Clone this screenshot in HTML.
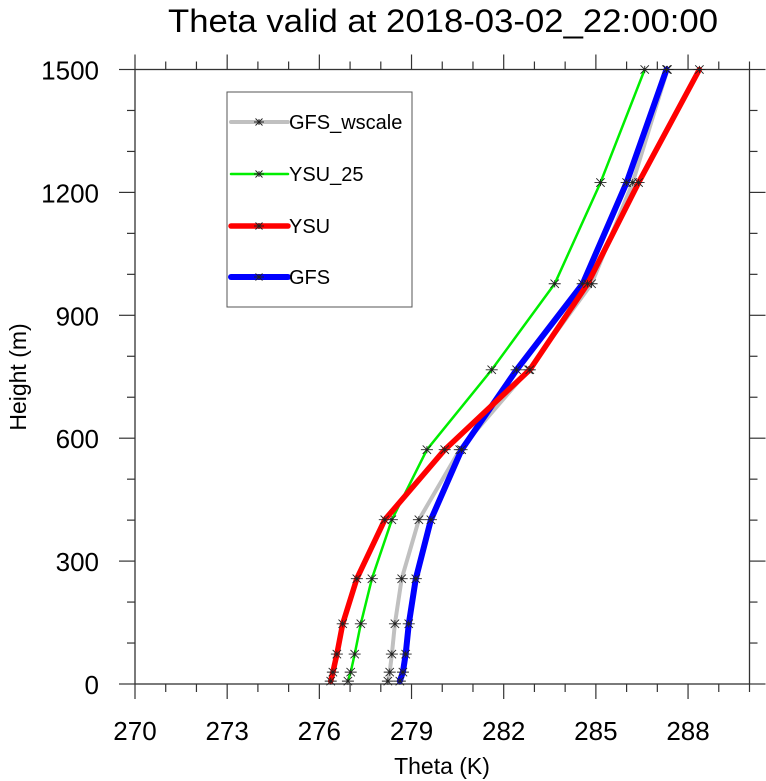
<!DOCTYPE html>
<html><head><meta charset="utf-8"><style>
html,body{margin:0;padding:0;background:#fff}
svg{display:block;font-family:"Liberation Sans",sans-serif}
</style></head><body>
<svg id="chart" width="766" height="781" viewBox="0 0 766 781" xmlns="http://www.w3.org/2000/svg">
<text x="443" y="32" font-size="32" text-anchor="middle" textLength="550" lengthAdjust="spacingAndGlyphs">Theta valid at 2018-03-02_22:00:00</text>
<text x="442" y="774" font-size="23" text-anchor="middle">Theta (K)</text>
<text transform="translate(26,377) rotate(-90)" font-size="23" text-anchor="middle">Height (m)</text>
<g id="axes"></g>
<g id="series"></g>
<g id="legend"></g>
</svg>
<script>
const heights = [7, 29, 73, 147, 257, 401, 572, 767, 977, 1224, 1500];
const thetaGFSwscale = [278.23, 278.29, 278.36, 278.46, 278.68, 279.24, 280.57, 282.81, 284.86, 286.20, 287.33];
const thetaYSU25 = [276.93, 277.02, 277.15, 277.35, 277.71, 278.36, 279.50, 281.61, 283.66, 285.15, 286.59];
const thetaYSU = [276.37, 276.44, 276.57, 276.76, 277.22, 278.13, 280.08, 282.85, 284.73, 286.39, 288.37];
const thetaGFS = [278.62, 278.72, 278.81, 278.91, 279.14, 279.63, 280.63, 282.42, 284.57, 286.00, 287.30];
const xTickLabels = [270, 273, 276, 279, 282, 285, 288];
const yTickLabels = [0, 300, 600, 900, 1200, 1500];

const NS = "http://www.w3.org/2000/svg";
const L = 135, R = 749.5, T = 69.5, B = 684;
const xMin = 270, xMax = 290, yMin = 0, yMax = 1500;
function xs(v){ return L + (v - xMin) / (xMax - xMin) * (R - L); }
function ys(v){ return B - (v - yMin) / (yMax - yMin) * (B - T); }
function mk(tag, attrs, parent){
  const e = document.createElementNS(NS, tag);
  for (const k in attrs) e.setAttribute(k, attrs[k]);
  parent.appendChild(e);
  return e;
}
const axes = document.getElementById('axes');
const frame = mk('rect', {x:L, y:T, width:R-L, height:B-T, fill:'none', stroke:'#333', 'stroke-width':1.3}, axes);


// x ticks
for (let v = xMin; v <= xMax; v += 1) {
  const major = (v - xMin) % 3 === 0;
  const x = xs(v);
  const len = major ? 15 : 8;
  const t1 = mk('line', {x1:x, y1:B, x2:x, y2:B+len, stroke:'#333', 'stroke-width':1.2}, axes);
  
  
  const t2 = mk('line', {x1:x, y1:T, x2:x, y2:T-len, stroke:'#333', 'stroke-width':1.2}, axes);
  
  
}
xTickLabels.forEach(v => {
  const t = mk('text', {x:xs(v), y:740, 'font-size':26, 'text-anchor':'middle'}, axes);
  
  
  t.textContent = v;
});
// y ticks
for (let v = yMin; v <= yMax; v += 100) {
  const major = v % 300 === 0;
  const y = ys(v);
  const len = major ? 16 : 8;
  const t1 = mk('line', {x1:L, y1:y, x2:L-len, y2:y, stroke:'#333', 'stroke-width':1.2}, axes);
  
  
  const t2 = mk('line', {x1:R, y1:y, x2:R+len, y2:y, stroke:'#333', 'stroke-width':1.2}, axes);
  
  
}
yTickLabels.forEach(v => {
  const t = mk('text', {x:99, y:ys(v)+10, 'font-size':26, 'text-anchor':'end'}, axes);
  
  
  t.textContent = v;
});

function marker(g, x, y, s){
  const p = mk('path', {d:`M${x-s},${y}H${x+s}M${x-s*0.7},${y-s*0.7}L${x+s*0.7},${y+s*0.7}M${x-s*0.7},${y+s*0.7}L${x+s*0.7},${y-s*0.7}M${x},${y-s*0.6}V${y+s*0.6}`, stroke:'#222', 'stroke-width':0.9, fill:'none'}, g);
  
  
}
const seriesList = [
  {name:'GFS_wscale', key:'series-gfs-wscale', vals:thetaGFSwscale, color:'#c0c0c0', w:4},
  {name:'YSU_25', key:'series-ysu-25', vals:thetaYSU25, color:'#00ee00', w:2.5},
  {name:'YSU', key:'series-ysu', vals:thetaYSU, color:'#ff0000', w:5.5},
  {name:'GFS', key:'series-gfs', vals:thetaGFS, color:'#0000ff', w:6}
];
const sg = document.getElementById('series');
const drawOrder = [0, 1, 3, 2];
drawOrder.forEach(i => {
  const s = seriesList[i];
  const g = mk('g', {}, sg);
  
  
  const pts = s.vals.map((v, j) => xs(v).toFixed(1) + ',' + ys(heights[j]).toFixed(1)).join(' ');
  const pl = mk('polyline', {points:pts, fill:'none', stroke:s.color, 'stroke-width':s.w, 'stroke-linejoin':'round', 'stroke-linecap':'round'}, g);
  
  
  s.vals.forEach((v, j) => marker(g, xs(v), ys(heights[j]), 6));
});
// legend
const lg = document.getElementById('legend');
const box = mk('rect', {x:227, y:92, width:185, height:215, fill:'#fff', stroke:'#555', 'stroke-width':1}, lg);


const ly = [122, 174, 226, 277];
seriesList.forEach((s, i) => {
  const g = mk('g', {}, lg);
  
  
  const ln = mk('line', {x1:231, y1:ly[i], x2:288, y2:ly[i], stroke:s.color, 'stroke-width':s.w, 'stroke-linecap':'round'}, g);
  
  
  marker(g, 259, ly[i], 5);
  const t = mk('text', {x:289, y:ly[i]+7, 'font-size':20}, g);
  
  
  t.textContent = s.name;
});
</script>
</body></html>
